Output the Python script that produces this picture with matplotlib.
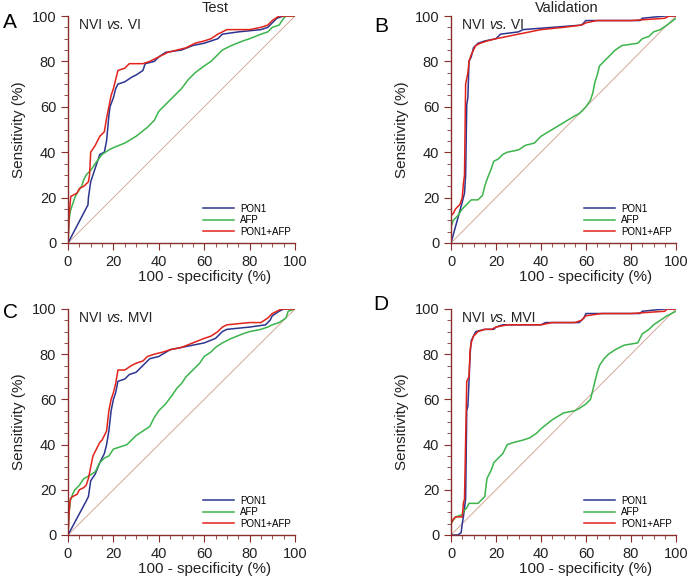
import numpy as np
import matplotlib.pyplot as plt
from matplotlib.ticker import MultipleLocator

plt.rcParams['font.family'] = ['Liberation Sans', 'DejaVu Sans']

# === ROC-Kurven, Werte in % ===
a_pon1_x = [0, 8.8, 9, 10, 11, 13, 14, 16, 17, 18, 18.5, 20, 21, 22, 25, 28, 30, 33, 34, 38, 40, 43, 50, 55, 60, 66, 68, 75, 85, 88, 90, 92, 95, 100]
a_pon1_y = [0, 16.8, 20, 27, 30, 36, 39, 40, 45, 56, 60, 64, 68, 70, 71, 73, 74, 76, 79, 80, 82, 84, 85, 87, 88, 90, 92, 93, 94, 95, 97, 99, 100, 100]
a_afp_x = [0, 0.5, 1, 2, 3, 4, 6, 7, 8, 10, 12, 15, 18, 20, 25, 30, 35, 38, 40, 43, 46, 50, 53, 56, 60, 63, 65, 68, 72, 77, 80, 85, 88, 90, 93, 95, 96, 100]
a_afp_y = [0, 10, 14, 17, 20, 22, 25, 28, 30, 32, 35, 39, 41, 42, 44, 47, 51, 54, 58, 61, 64, 68, 72, 75, 78, 80, 82, 85, 87, 89, 90, 92, 93, 95, 96, 99, 100, 100]
a_comb_x = [0, 0.5, 1.2, 4, 5, 7, 9, 9.5, 10, 12, 14, 16, 17, 18, 19, 20, 21, 22, 25, 27, 33, 36, 40, 44, 48, 52, 56, 60, 63, 66, 70, 80, 85, 88, 90, 93, 100]
a_comb_y = [0, 12, 20.5, 22, 24, 25, 27, 30, 40, 43, 47, 49, 55, 60, 65, 68, 72, 76, 77, 79, 79, 80, 82, 84, 85, 86, 88, 89, 90, 92, 94, 94, 95, 96, 98, 100, 100]

b_pon1_x = [0, 5, 6, 6.5, 7, 7.5, 8, 9, 10, 12, 15, 20, 22, 30, 32, 45, 58, 60, 84, 85, 95, 100]
b_pon1_y = [0, 18, 22, 30, 61, 64, 80, 82, 86, 88, 89, 90, 92, 93, 94, 95, 96, 98, 98, 99, 100, 100]
b_afp_x = [0, 0, 1, 3, 5, 7, 9, 12, 14, 15, 16, 18, 19, 21, 23, 25, 30, 33, 37, 40, 45, 50, 55, 57, 60, 62, 63, 64, 65, 66, 68, 70, 73, 76, 83, 85, 88, 90, 93, 96, 100]
b_afp_y = [0, 7, 10, 12, 15, 17, 19, 19, 21, 25, 28, 33, 36, 37, 39, 40, 41, 43, 44, 47, 50, 53, 56, 57, 60, 63, 66, 71, 74, 78, 80, 82, 85, 87, 88, 90, 91, 93, 94, 96, 99]
b_comb_x = [0, 0, 1, 2, 4, 5, 5.5, 6, 6.5, 7.5, 8, 9, 10, 11, 13, 16, 20, 25, 30, 35, 40, 50, 58, 60, 65, 80, 95, 97, 100]
b_comb_y = [0, 12, 13, 15, 17, 20, 26, 30, 70, 75, 80, 83, 85, 87, 88, 89, 90, 91, 92, 93, 94, 95, 96, 97, 98, 98, 99, 100, 100]

c_pon1_x = [0, 8, 9, 10, 12, 14, 16, 17, 18, 19, 20, 21, 22, 25, 27, 30, 33, 36, 40, 45, 50, 55, 60, 65, 68, 70, 80, 87, 89, 90, 93, 95, 100]
c_pon1_y = [0, 15, 17, 24, 27, 32, 36, 40, 46, 55, 60, 63, 68, 69, 71, 72, 75, 78, 79, 82, 83, 84, 85, 87, 90, 91, 92, 93, 95, 97, 99, 100, 100]
c_afp_x = [0, 0.5, 1, 2, 3, 5, 7, 9, 12, 14, 16, 18, 20, 23, 26, 28, 30, 33, 36, 38, 40, 43, 46, 48, 50, 52, 55, 58, 60, 63, 65, 68, 72, 77, 80, 85, 88, 90, 93, 96, 97, 100]
c_afp_y = [0, 10, 15, 18, 20, 22, 25, 26, 28, 32, 34, 35, 38, 39, 40, 42, 44, 46, 48, 52, 55, 58, 62, 65, 67, 70, 73, 76, 79, 81, 83, 85, 87, 89, 90, 91, 92, 93, 94, 96, 99, 100]
c_comb_x = [0, 0.5, 1, 2, 4, 5, 7, 8, 9, 10, 11, 12, 14, 15, 16, 17, 18, 19, 20, 21, 22, 25, 28, 30, 33, 35, 38, 42, 45, 50, 55, 60, 63, 66, 68, 70, 80, 85, 88, 90, 92, 94, 100]
c_comb_y = [0, 10, 16, 17, 18, 20, 21, 22, 25, 30, 35, 37, 41, 42, 44, 46, 55, 60, 63, 67, 73, 73, 75, 76, 77, 79, 80, 81, 82, 83, 85, 87, 88, 90, 92, 93, 94, 94, 96, 98, 99, 100, 100]

d_pon1_x = [0, 3, 4.5, 5, 5.5, 6, 6.5, 7, 7.5, 8, 8.5, 9, 10, 11, 15, 19, 20, 23, 40, 42, 57, 59, 60, 84, 85, 95, 100]
d_pon1_y = [0, 0, 1, 5, 8, 12, 16, 55, 57, 68, 80, 86, 88, 90, 91, 91, 92, 93, 93, 94, 94, 96, 98, 98, 99, 100, 100]
d_afp_x = [0, 0, 2, 5, 6, 7, 8, 12, 14, 15, 16, 17, 18, 19, 21, 23, 24, 25, 28, 32, 35, 38, 40, 45, 50, 55, 57, 60, 62, 63, 64, 65, 66, 68, 70, 73, 77, 83, 85, 88, 90, 93, 96, 100]
d_afp_y = [0, 5, 8, 9, 11, 12, 14, 14, 16, 17, 25, 27, 29, 32, 34, 36, 38, 40, 41, 42, 43, 45, 47, 51, 54, 55, 56, 58, 60, 64, 68, 72, 75, 78, 80, 82, 84, 85, 89, 91, 93, 95, 97, 99]
d_comb_x = [0, 0, 1, 2, 5, 5.5, 6, 7, 8, 8.5, 9, 10, 11, 12, 15, 18, 20, 25, 40, 45, 55, 58, 60, 67, 80, 95, 96, 100]
d_comb_y = [0, 5, 7, 8, 8, 14, 16, 68, 70, 82, 85, 88, 89, 90, 91, 91, 92, 93, 93, 94, 94, 95, 97, 98, 98, 99, 100, 100]

panels = [
    ('A', 'NVI', 'VI', a_pon1_x, a_pon1_y, a_afp_x, a_afp_y, a_comb_x, a_comb_y),
    ('B', 'NVI', 'VI', b_pon1_x, b_pon1_y, b_afp_x, b_afp_y, b_comb_x, b_comb_y),
    ('C', 'NVI', 'MVI', c_pon1_x, c_pon1_y, c_afp_x, c_afp_y, c_comb_x, c_comb_y),
    ('D', 'NVI', 'MVI', d_pon1_x, d_pon1_y, d_afp_x, d_afp_y, d_comb_x, d_comb_y),
]

# === Layout in Pixeln (688 x 576) ===
W, H = 688, 576
boxes = [(68, 16, 295, 243), (451, 16, 676, 243), (68, 309, 295, 535), (451, 309, 676, 535)]
letter_pos = [(10, 22), (381, 27), (10, 313), (381, 305)]

spine_col = '#8c2d2d'
c_blue = '#2c3590'
c_green = '#3cb44b'
c_red = '#e2231a'
txt_col = '#222222'

fig = plt.figure(figsize=(W / 100, H / 100), dpi=100)

for (letter, g1, g2, px, py, ax_, ay, cx, cy), (l, t, r, b), (lx, ly) in zip(panels, boxes, letter_pos):
    ax = fig.add_axes([l / W, 1 - b / H, (r - l) / W, (b - t) / H])
    ax.plot([0, 100], [0, 100], color='#d4a898', lw=0.7)
    ax.plot(px, py, color=c_blue, lw=1.1, label='PON1')
    ax.plot(ax_, ay, color=c_green, lw=1.1, label='AFP')
    ax.plot(cx, cy, color=c_red, lw=1.1, label='PON1+AFP')
    ax.set_xlim(0, 100)
    ax.set_ylim(0, 100)
    for s in ['top', 'right']:
        ax.spines[s].set_visible(False)
    for s in ['left', 'bottom']:
        ax.spines[s].set_color(spine_col)
        ax.spines[s].set_linewidth(1.0)
    ax.xaxis.set_major_locator(MultipleLocator(20))
    ax.yaxis.set_major_locator(MultipleLocator(20))
    ax.xaxis.set_minor_locator(MultipleLocator(5))
    ax.yaxis.set_minor_locator(MultipleLocator(5))
    ax.tick_params(which='major', length=5, color=spine_col, labelsize=10.5, labelcolor=txt_col)
    ax.tick_params(which='minor', length=3, color=spine_col)
    ax.set_xlabel('100 - specificity (%)', fontsize=11, color=txt_col, va='center')
    ax.xaxis.set_label_coords(0.6, -0.15)
    ax.set_ylabel('Sensitivity (%)', fontsize=11, color=txt_col)

    # Gruppentitel mit kursivem "vs."
    t1 = ax.text(5, 96, g1 + ' ', fontsize=10, va='center', color=txt_col)
    t2 = ax.annotate('vs.', xy=(1, 0.5), xycoords=t1, va='center', ha='left',
                     fontsize=10, style='italic', color=txt_col)
    ax.annotate(' ' + g2, xy=(1, 0.5), xycoords=t2, va='center', ha='left',
                fontsize=10, color=txt_col)

    ax.legend(loc='lower right', bbox_to_anchor=(1.02, -0.01), frameon=False, fontsize=7,
              handlelength=3.2, labelspacing=0.15, handletextpad=0.6)
    fig.text(lx / W, 1 - ly / H, letter, fontsize=15, ha='center', va='center')

fig.text(215 / W, 1 - 8 / H, 'Test', fontsize=10.5, ha='center', va='center', color=txt_col)
fig.text(567 / W, 1 - 8 / H, 'Validation', fontsize=10.5, ha='center', va='center', color=txt_col)

fig.savefig('out.png', dpi=100)
